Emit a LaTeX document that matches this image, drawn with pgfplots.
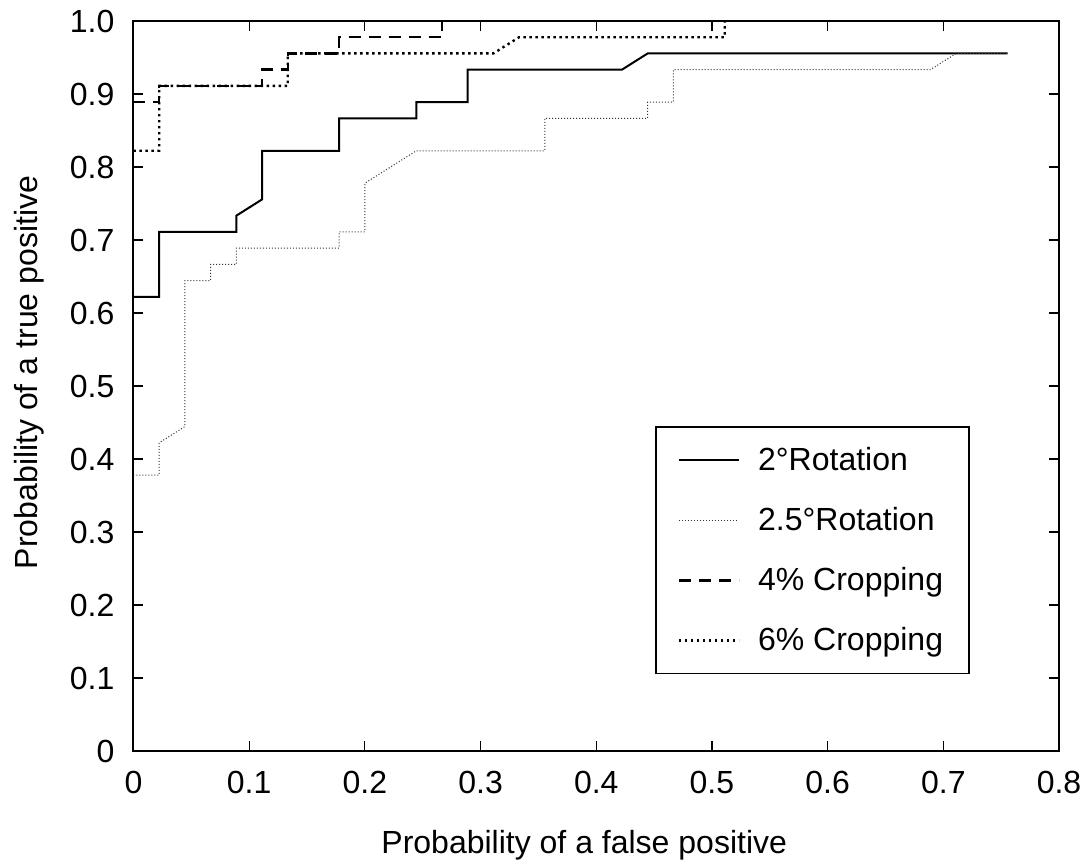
\documentclass[border=0pt]{standalone}
\usepackage{fontspec}
\setmainfont{Liberation Sans}
\usepackage{pgfplots}
\pgfplotsset{compat=1.18}

\begin{document}
\begin{tikzpicture}[font=\fontsize{16}{19}\selectfont]
\path[use as bounding box] (-66.75pt,-56pt) rectangle (479.25pt,375.5pt);
\begin{axis}[
  at={(0,0)}, anchor=south west,
  scale only axis,
  width=462.75pt, height=365pt,
  xmin=0, xmax=0.8, ymin=0, ymax=1,
  axis line style={line width=1pt},
  tick style={black, line width=0.6pt},
  major tick length=5pt,
  tick align=inside,
  xtick={0,0.1,...,0.8},
  xticklabels={0,0.1,0.2,0.3,0.4,0.5,0.6,0.7,0.8},
  ytick={0,0.1,...,1.0},
  yticklabels={0,0.1,0.2,0.3,0.4,0.5,0.6,0.7,0.8,0.9,1.0},
  /pgf/number format/assume math mode=true,
  xticklabel style={yshift=-6.5pt},
  yticklabel style={xshift=-6pt},
  xlabel={Probability of a false positive},
  ylabel={Probability of a true positive},
  xlabel style={at={(axis description cs:0.487,0)}, anchor=center, yshift=-47pt},
  ylabel style={at={(axis description cs:0,0.5185)}, anchor=center, yshift=52pt},
  legend cell align=left,
  legend style={at={(axis description cs:0.5634,0.445)}, anchor=north west,
    draw=black, line width=0.8pt, inner xsep=11pt, inner ysep=8pt,
    row sep=13pt, font=\fontsize{16}{19}\selectfont},
  legend image code/.code={\draw[#1] (0pt,0pt) -- (30pt,0pt); \path (37pt,0pt);},
]
% 2 deg rotation
\addplot[black, line width=1pt] coordinates {
(0,0.62222)(0.02222,0.62222)(0.02222,0.71111)(0.08889,0.71111)(0.08889,0.73333)
(0.11111,0.75556)(0.11111,0.82222)(0.17778,0.82222)(0.17778,0.86667)(0.24444,0.86667)
(0.24444,0.88889)(0.28889,0.88889)(0.28889,0.93333)(0.42222,0.93333)(0.44444,0.95556)
(0.75556,0.95556)};
% 2.5 deg rotation
\addplot[black!80, line width=0.5pt, dash pattern=on 0.5pt off 1pt] coordinates {
(0,0.37778)(0.02222,0.37778)(0.02222,0.42222)(0.04444,0.44444)(0.04444,0.64444)
(0.06667,0.64444)(0.06667,0.66667)(0.08889,0.66667)(0.08889,0.68889)(0.17778,0.68889)
(0.17778,0.71111)(0.2,0.71111)(0.2,0.77778)(0.24444,0.82222)(0.35556,0.82222)
(0.35556,0.86667)(0.44444,0.86667)(0.44444,0.88889)(0.46667,0.88889)(0.46667,0.93333)
(0.68889,0.93333)(0.71111,0.95556)(0.75556,0.95556)};
% 4% cropping
\addplot[black, line width=1.2pt, dash pattern=on 6pt off 4pt] coordinates {
(0,0.88889)(0.02222,0.88889)(0.02222,0.91111)(0.11111,0.91111)(0.11111,0.93333)
(0.13333,0.93333)(0.13333,0.95556)(0.17778,0.95556)(0.17778,0.97778)(0.26667,0.97778)
(0.26667,1.0)};
% 6% cropping
\addplot[black, line width=1.2pt, dash pattern=on 1.2pt off 1.8pt] coordinates {
(0,0.82222)(0.02222,0.82222)(0.02222,0.91111)(0.13333,0.91111)(0.13333,0.95556)
(0.31111,0.95556)(0.33333,0.97778)(0.51111,0.97778)(0.51111,1.0)};
\legend{2°Rotation, 2.5°Rotation, 4\% Cropping, 6\% Cropping}
\end{axis}
\end{tikzpicture}
\end{document}
